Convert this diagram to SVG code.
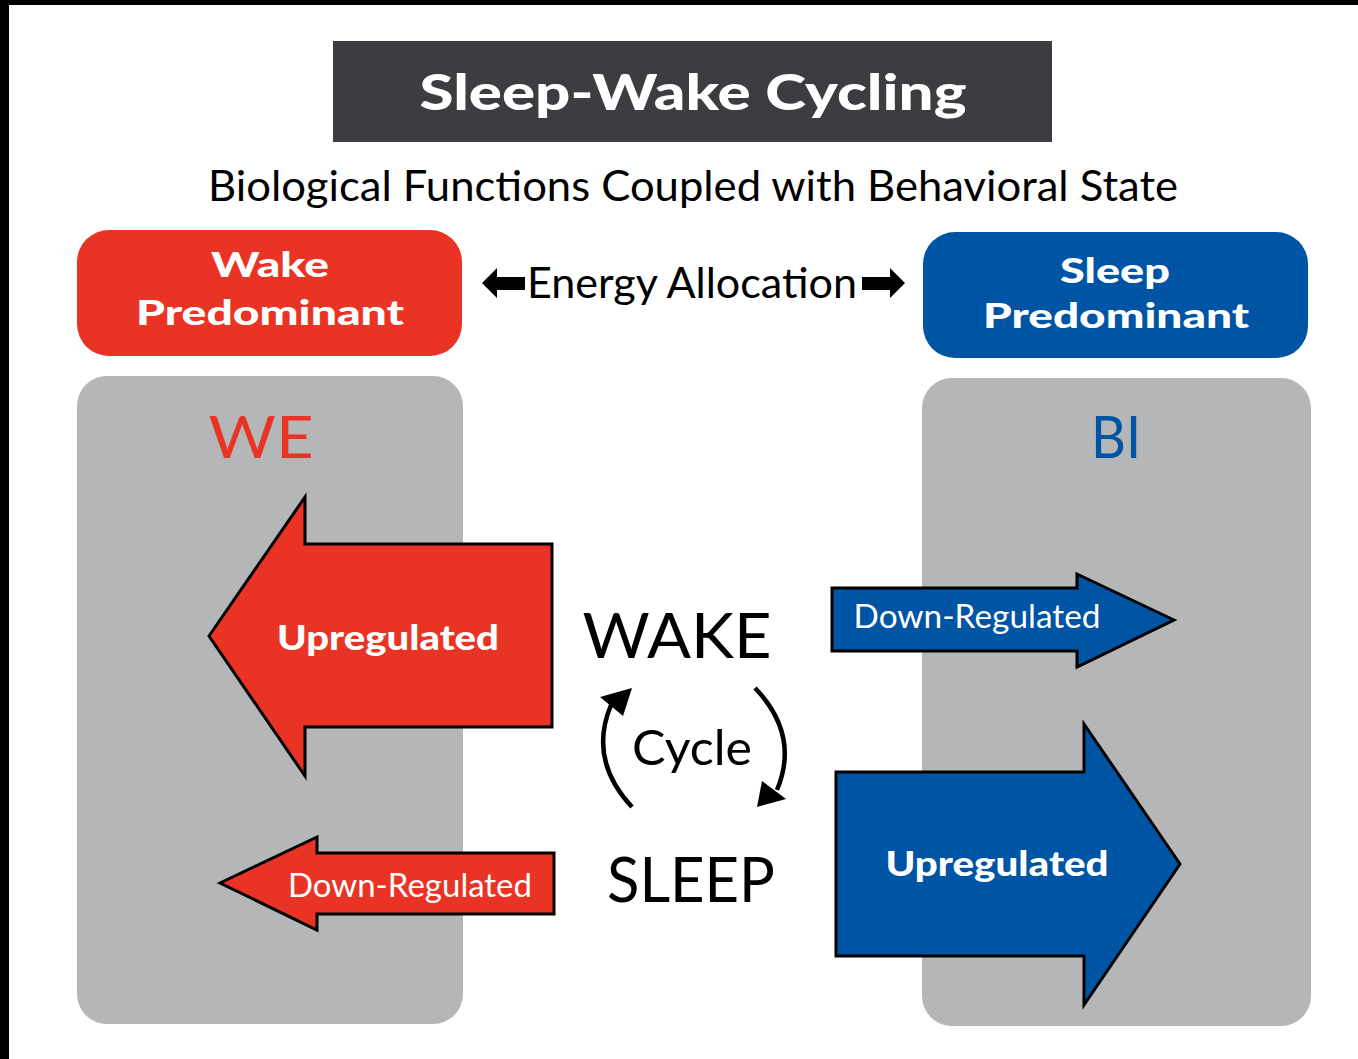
<svg xmlns="http://www.w3.org/2000/svg" width="1358" height="1059" viewBox="0 0 1358 1059">
<defs>
<style>
.t{font-family:Lato,"Open Sans","Liberation Sans",sans-serif}
.b{font-weight:900;fill:#fff}
.arr{stroke:#000;stroke-width:3;stroke-linejoin:miter}
.red{fill:#e93324}
.blue{fill:#0054a4}
.gray{fill:#b5b6b8}
.cyc{fill:none;stroke:#000;stroke-width:4.5}
</style>
</defs>
<rect x="0" y="0" width="1358" height="1059" fill="#fff"/>
<rect x="0" y="0" width="1358" height="5" fill="#000"/>
<rect x="0" y="0" width="9" height="1059" fill="#000"/>

<g id="title">
<rect x="333" y="41" width="719" height="101" fill="#3b3d40"/>
<text class="t b" x="693" y="110" font-size="50" text-anchor="middle" textLength="547" lengthAdjust="spacingAndGlyphs">Sleep-Wake Cycling</text>
</g>
<g id="subtitle">
<text class="t" x="693" y="201" font-size="42" fill="#000" text-anchor="middle" textLength="970" lengthAdjust="spacingAndGlyphs">Biological Functions Coupled with Behavioral State</text>
</g>

<g id="wake-predominant">
<rect class="red" x="77" y="230" width="385" height="126" rx="32"/>
<text class="t b" x="270" y="277" font-size="34" text-anchor="middle" textLength="118" lengthAdjust="spacingAndGlyphs">Wake</text>
<text class="t b" x="270" y="325" font-size="34" text-anchor="middle" textLength="268" lengthAdjust="spacingAndGlyphs">Predominant</text>
</g>
<g id="sleep-predominant">
<rect class="blue" x="923" y="232" width="385" height="126" rx="32"/>
<text class="t b" x="1115" y="283" font-size="34" text-anchor="middle" textLength="110" lengthAdjust="spacingAndGlyphs">Sleep</text>
<text class="t b" x="1116" y="328" font-size="34" text-anchor="middle" textLength="266" lengthAdjust="spacingAndGlyphs">Predominant</text>
</g>

<g id="energy-allocation">
<polygon points="482,283 497,268 497,277 525,277 525,290 497,290 497,298" fill="#000"/>
<text class="t" x="692" y="298" font-size="42" fill="#000" text-anchor="middle" textLength="330" lengthAdjust="spacingAndGlyphs">Energy Allocation</text>
<polygon points="905,283 890,268 890,277 862,277 862,290 890,290 890,298" fill="#000"/>
</g>

<g id="we-panel">
<rect class="gray" x="77" y="376" width="386" height="648" rx="30"/>
<text class="t" x="261" y="458" font-size="58" fill="#e93324" text-anchor="middle" textLength="105" lengthAdjust="spacingAndGlyphs">WE</text>
</g>
<g id="bi-panel">
<rect class="gray" x="922" y="378" width="389" height="648" rx="30"/>
<text class="t" x="1116" y="458" font-size="58" fill="#0054a4" text-anchor="middle" textLength="50" lengthAdjust="spacingAndGlyphs">BI</text>
</g>

<g id="we-upregulated">
<polygon class="red arr" points="209,636 305,497 305,544 552,544 552,727 305,727 305,776"/>
<text class="t b" x="388" y="650" font-size="34" text-anchor="middle" textLength="222" lengthAdjust="spacingAndGlyphs">Upregulated</text>
</g>
<g id="we-downregulated">
<polygon class="red arr" points="220,883 317,837 317,853 554,853 554,914 317,914 317,930"/>
<text class="t" x="410" y="897" font-size="32" fill="#fff" text-anchor="middle" textLength="244" lengthAdjust="spacingAndGlyphs">Down-Regulated</text>
</g>
<g id="bi-downregulated">
<polygon class="blue arr" points="1174,620 1077,574 1077,588 832,588 832,651 1077,651 1077,667"/>
<text class="t" x="977" y="628" font-size="32" fill="#fff" text-anchor="middle" textLength="247" lengthAdjust="spacingAndGlyphs">Down-Regulated</text>
</g>
<g id="bi-upregulated">
<polygon class="blue arr" points="1180,864 1084,724 1084,772 836,772 836,956 1084,956 1084,1005"/>
<text class="t b" x="997" y="876" font-size="34" text-anchor="middle" textLength="223" lengthAdjust="spacingAndGlyphs">Upregulated</text>
</g>

<g id="wake">
<text class="t" x="677" y="658" font-size="62" fill="#000" text-anchor="middle" textLength="189" lengthAdjust="spacingAndGlyphs">WAKE</text>
</g>
<g id="sleep">
<text class="t" x="691" y="902" font-size="62" fill="#000" text-anchor="middle" textLength="168" lengthAdjust="spacingAndGlyphs">SLEEP</text>
</g>
<g id="cycle">
<text class="t" x="692" y="765" font-size="48" fill="#000" text-anchor="middle" textLength="120" lengthAdjust="spacingAndGlyphs">Cycle</text>
</g>

<g id="connectors">
<path class="cyc" d="M632,807 Q588,760 611,705"/>
<polygon points="632,688 600,697 623,716" fill="#000"/>
<path class="cyc" d="M755,688 Q800,735 777,790"/>
<polygon points="757,807 762,781 786,799" fill="#000"/>
</g>
</svg>
